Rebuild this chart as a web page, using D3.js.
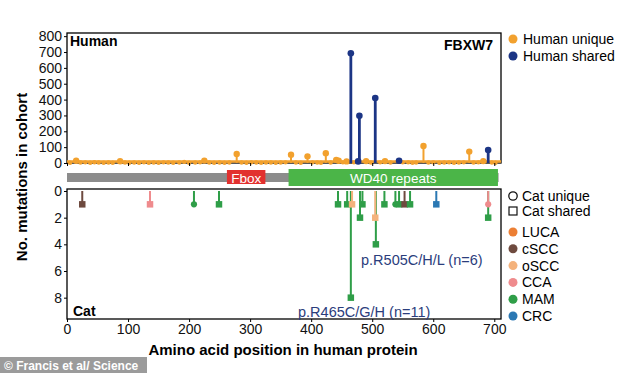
<!DOCTYPE html>
<html>
<head>
<meta charset="utf-8">
<script src="https://cdn.jsdelivr.net/npm/d3@7"></script>
<style>
  body { margin: 0; background: #fff; }
  text { font-family: "Liberation Sans", Arial, sans-serif; }
</style>
</head>
<body>
<div id="chart"></div>
<script>
// FBXW7 lollipop plot, human (top) vs cat (bottom)

// human unique mutations: position / count
var humanUniquePos = [5, 15, 22, 30, 38, 45, 52, 60, 68, 75, 87, 95, 102, 110, 118, 126, 134, 142, 150, 158, 166, 174,
  184, 192, 200, 210, 218, 225, 233, 241, 250, 258, 266, 278, 286, 294, 302, 310, 318, 326, 334, 342, 350, 358, 367,
  375, 383, 394, 402, 410, 416, 424, 432, 441, 445, 452, 458, 470, 490, 498, 513, 521, 530, 550, 559, 566, 572, 584,
  592, 600, 610, 618, 626, 634, 642, 650, 659, 666, 674, 682, 696, 702];
var humanUniqueCount = [2, 14, 3, 4, 2, 5, 3, 2, 3, 2, 11, 3, 2, 3, 2, 4, 2, 3, 2, 4, 3, 2,
  3, 7, 2, 3, 4, 15, 3, 2, 3, 2, 3, 57, 3, 2, 4, 3, 2, 3, 3, 2, 3, 4, 52,
  3, 2, 42, 4, 3, 2, 62, 3, 20, 14, 4, 10, 4, 12, 3, 4, 12, 3, 4, 4, 2, 3, 107,
  3, 4, 2, 3, 4, 2, 3, 4, 72, 3, 4, 12, 3, 2];

// human shared mutations
var humanSharedPos = [465, 477, 479, 505, 544, 690];
var humanSharedCount = [692, 10, 298, 410, 14, 82];

// cat mutations
var catPos = [25, 136, 208, 249, 444, 459, 465, 467, 480, 484, 506, 505, 520, 538, 544, 553, 562, 605, 690, 690];
var catCount = [1, 1, 1, 1, 1, 1, 8, 1, 2, 1, 4, 2, 1, 1, 1, 1, 1, 1, 2, 1];
var catType = ["cSCC", "CCA", "MAM", "MAM", "MAM", "MAM", "MAM", "oSCC", "MAM", "MAM", "MAM", "oSCC", "MAM", "MAM",
  "MAM", "cSCC", "MAM", "CRC", "MAM", "CCA"];
var catShared = [true, true, false, true, true, true, true, true, true, true, true, true, true, false,
  true, true, true, true, true, false];

var cancerTypes = ["LUCA", "cSCC", "oSCC", "CCA", "MAM", "CRC"];
var cancerColors = ["#ec7f34", "#6e4a3f", "#f4b27c", "#ef8b8d", "#2f9e48", "#2b78b3"];

var humanYTicks = [0, 100, 200, 300, 400, 500, 600, 700, 800];
var catYTicks = [0, 2, 4, 6, 8];
var xTicks = [0, 100, 200, 300, 400, 500, 600, 700];

var domains = [
  { name: "Fbox", start: 262, end: 325, color: "#e2312f" },
  { name: "WD40 repeats", start: 363, end: 706, color: "#4bb548" }
];
var proteinLength = 707;

var width = 634, height = 373;
var left = 67, right = 501;
var orange = "#f2a12e", navy = "#1c3585", annot = "#2b3d7c";

var svg = d3.select("#chart").append("svg")
  .attr("width", width)
  .attr("height", height);

var x = d3.scaleLinear().domain([0, 711]).range([left, right]);
var yTop = d3.scaleLinear().domain([0, 820]).range([163, 33]);
var yBot = d3.scaleLinear().domain([-0.15, 9.6]).range([189, 319]);
var typeColor = d3.scaleOrdinal().domain(cancerTypes).range(cancerColors);

// ---- top panel (human)
var topG = svg.append("g");
topG.append("rect").attr("x", left).attr("y", 33).attr("width", right - left).attr("height", 130)
  .attr("fill", "none").attr("stroke", "#000").attr("stroke-width", 1.3);

var hu = humanUniquePos.map(function(p, i) { return { pos: p, n: humanUniqueCount[i] }; });
var hs = humanSharedPos.map(function(p, i) { return { pos: p, n: humanSharedCount[i] }; });

topG.append("line").attr("x1", left).attr("x2", right).attr("y1", 161.5).attr("y2", 161.5)
  .attr("stroke", orange).attr("stroke-width", 2.5);
topG.selectAll(".hu-stem").data(hu).enter().append("line")
  .attr("x1", function(d) { return x(d.pos); }).attr("x2", function(d) { return x(d.pos); })
  .attr("y1", yTop(0)).attr("y2", function(d) { return yTop(d.n); })
  .attr("stroke", orange).attr("stroke-width", 2);
topG.selectAll(".hu-dot").data(hu).enter().append("circle")
  .attr("cx", function(d) { return x(d.pos); }).attr("cy", function(d) { return yTop(d.n); })
  .attr("r", function(d) { return d.n < 8 ? 2.2 : 3.2; }).attr("fill", orange);

topG.selectAll(".hs-stem").data(hs).enter().append("line")
  .attr("x1", function(d) { return x(d.pos); }).attr("x2", function(d) { return x(d.pos); })
  .attr("y1", yTop(0)).attr("y2", function(d) { return yTop(d.n); })
  .attr("stroke", navy).attr("stroke-width", 2.8);
topG.selectAll(".hs-dot").data(hs).enter().append("circle")
  .attr("cx", function(d) { return x(d.pos); }).attr("cy", function(d) { return yTop(d.n); })
  .attr("r", 3.3).attr("fill", navy);

var yAxisTop = d3.axisLeft(yTop).tickValues(humanYTicks).tickSize(3).tickPadding(2);
topG.append("g").attr("transform", "translate(" + left + ",0)").call(yAxisTop)
  .call(function(g) { g.select(".domain").remove(); })
  .selectAll("text").style("font-size", "14px").attr("fill", "#111");
topG.append("g").attr("transform", "translate(0,163)")
  .call(d3.axisBottom(x).tickValues(xTicks).tickSize(3).tickFormat(""))
  .call(function(g) { g.select(".domain").remove(); });

topG.append("text").attr("x", 70).attr("y", 46).text("Human")
  .style("font-size", "14px").style("font-weight", "bold");
topG.append("text").attr("x", 493).attr("y", 50).attr("text-anchor", "end").text("FBXW7")
  .style("font-size", "14px").style("font-weight", "bold");

// ---- protein track
var track = svg.append("g");
track.append("rect").attr("x", x(0)).attr("y", 173).attr("width", x(proteinLength) - x(0)).attr("height", 9)
  .attr("fill", "#8c8c8c");
track.selectAll(".dom").data(domains).enter().append("rect")
  .attr("x", function(d) { return x(d.start); })
  .attr("y", function(d, i) { return i == 0 ? 170 : 169; })
  .attr("width", function(d) { return x(d.end) - x(d.start); })
  .attr("height", function(d, i) { return i == 0 ? 14 : 17; })
  .attr("fill", function(d) { return d.color; });
track.selectAll(".domlab").data(domains).enter().append("text")
  .attr("x", function(d) { return (x(d.start) + x(d.end)) / 2; })
  .attr("y", 182.5).attr("text-anchor", "middle").attr("fill", "#fff")
  .style("font-size", "13.5px").text(function(d) { return d.name; });

// ---- bottom panel (cat)
var botG = svg.append("g");
botG.append("rect").attr("x", left).attr("y", 189).attr("width", right - left).attr("height", 130)
  .attr("fill", "none").attr("stroke", "#000").attr("stroke-width", 1.3);

var cat = catPos.map(function(p, i) {
  return { pos: p, n: catCount[i], type: catType[i], shared: catShared[i] };
}).sort(function(a, b) { return b.n - a.n; });

botG.selectAll(".c-stem").data(cat).enter().append("line")
  .attr("x1", function(d) { return x(d.pos); }).attr("x2", function(d) { return x(d.pos); })
  .attr("y1", yBot(0)).attr("y2", function(d) { return yBot(d.n); })
  .attr("stroke", function(d) { return typeColor(d.type); }).attr("stroke-width", 2);
botG.selectAll(".c-mark").data(cat).enter().append("path")
  .attr("transform", function(d) { return "translate(" + x(d.pos) + "," + yBot(d.n) + ")"; })
  .attr("d", function(d) {
    return d3.symbol().type(d.shared ? d3.symbolSquare : d3.symbolCircle).size(d.shared ? 42 : 30)();
  })
  .attr("fill", function(d) { return typeColor(d.type); });

botG.append("g").attr("transform", "translate(" + left + ",0)")
  .call(d3.axisLeft(yBot).tickValues(catYTicks).tickSize(3).tickPadding(2))
  .call(function(g) { g.select(".domain").remove(); })
  .selectAll("text").style("font-size", "14px").attr("fill", "#111");
botG.append("g").attr("transform", "translate(0,319)")
  .call(d3.axisBottom(x).tickValues(xTicks).tickSize(3).tickPadding(2))
  .call(function(g) { g.select(".domain").remove(); })
  .selectAll("text").style("font-size", "14px").attr("fill", "#111");

botG.append("text").attr("x", 73).attr("y", 316).text("Cat")
  .style("font-size", "14px").style("font-weight", "bold");
botG.append("text").attr("x", 361).attr("y", 265).attr("fill", annot)
  .style("font-size", "14.5px").text("p.R505C/H/L (n=6)");
botG.append("text").attr("x", 298).attr("y", 317).attr("fill", annot)
  .style("font-size", "14.5px").text("p.R465C/G/H (n=11)");

// ---- axis titles
svg.append("text").attr("transform", "translate(27,177) rotate(-90)").attr("text-anchor", "middle")
  .style("font-size", "15px").style("font-weight", "bold").text("No. mutations in cohort");
svg.append("text").attr("x", 283).attr("y", 355).attr("text-anchor", "middle")
  .style("font-size", "15px").style("font-weight", "bold").text("Amino acid position in human protein");

// ---- legends
var hLeg = svg.append("g");
hLeg.selectAll("circle").data([orange, navy]).enter().append("circle")
  .attr("cx", 513).attr("cy", function(d, i) { return 39 + i * 17; }).attr("r", 4.5).attr("fill", function(d) { return d; });
hLeg.selectAll("text").data(["Human unique", "Human shared"]).enter().append("text")
  .attr("x", 523).attr("y", function(d, i) { return 44 + i * 17; })
  .style("font-size", "14px").text(function(d) { return d; });

var cLeg = svg.append("g");
cLeg.append("circle").attr("cx", 513).attr("cy", 196).attr("r", 4.2)
  .attr("fill", "none").attr("stroke", "#111").attr("stroke-width", 1.3);
cLeg.append("rect").attr("x", 509).attr("y", 207).attr("width", 8).attr("height", 8)
  .attr("fill", "none").attr("stroke", "#111").attr("stroke-width", 1.2);
cLeg.selectAll(".st").data(["Cat unique", "Cat shared"]).enter().append("text")
  .attr("x", 522).attr("y", function(d, i) { return 201 + i * 15; })
  .style("font-size", "14px").text(function(d) { return d; });
cLeg.selectAll(".tc").data(cancerTypes).enter().append("circle")
  .attr("cx", 513).attr("cy", function(d, i) { return 232 + i * 16.8; }).attr("r", 4.5)
  .attr("fill", function(d) { return typeColor(d); });
cLeg.selectAll(".tt").data(cancerTypes).enter().append("text")
  .attr("x", 522).attr("y", function(d, i) { return 237 + i * 16.8; })
  .style("font-size", "14px").text(function(d) { return d; });

// ---- credit
svg.append("rect").attr("x", 0).attr("y", 357).attr("width", 147).attr("height", 16).attr("fill", "#9b9b9b");
svg.append("text").attr("x", 4).attr("y", 369.5).attr("fill", "#fff")
  .style("font-size", "12px").style("font-weight", "bold").text("© Francis et al/ Science");
</script>
</body>
</html>
